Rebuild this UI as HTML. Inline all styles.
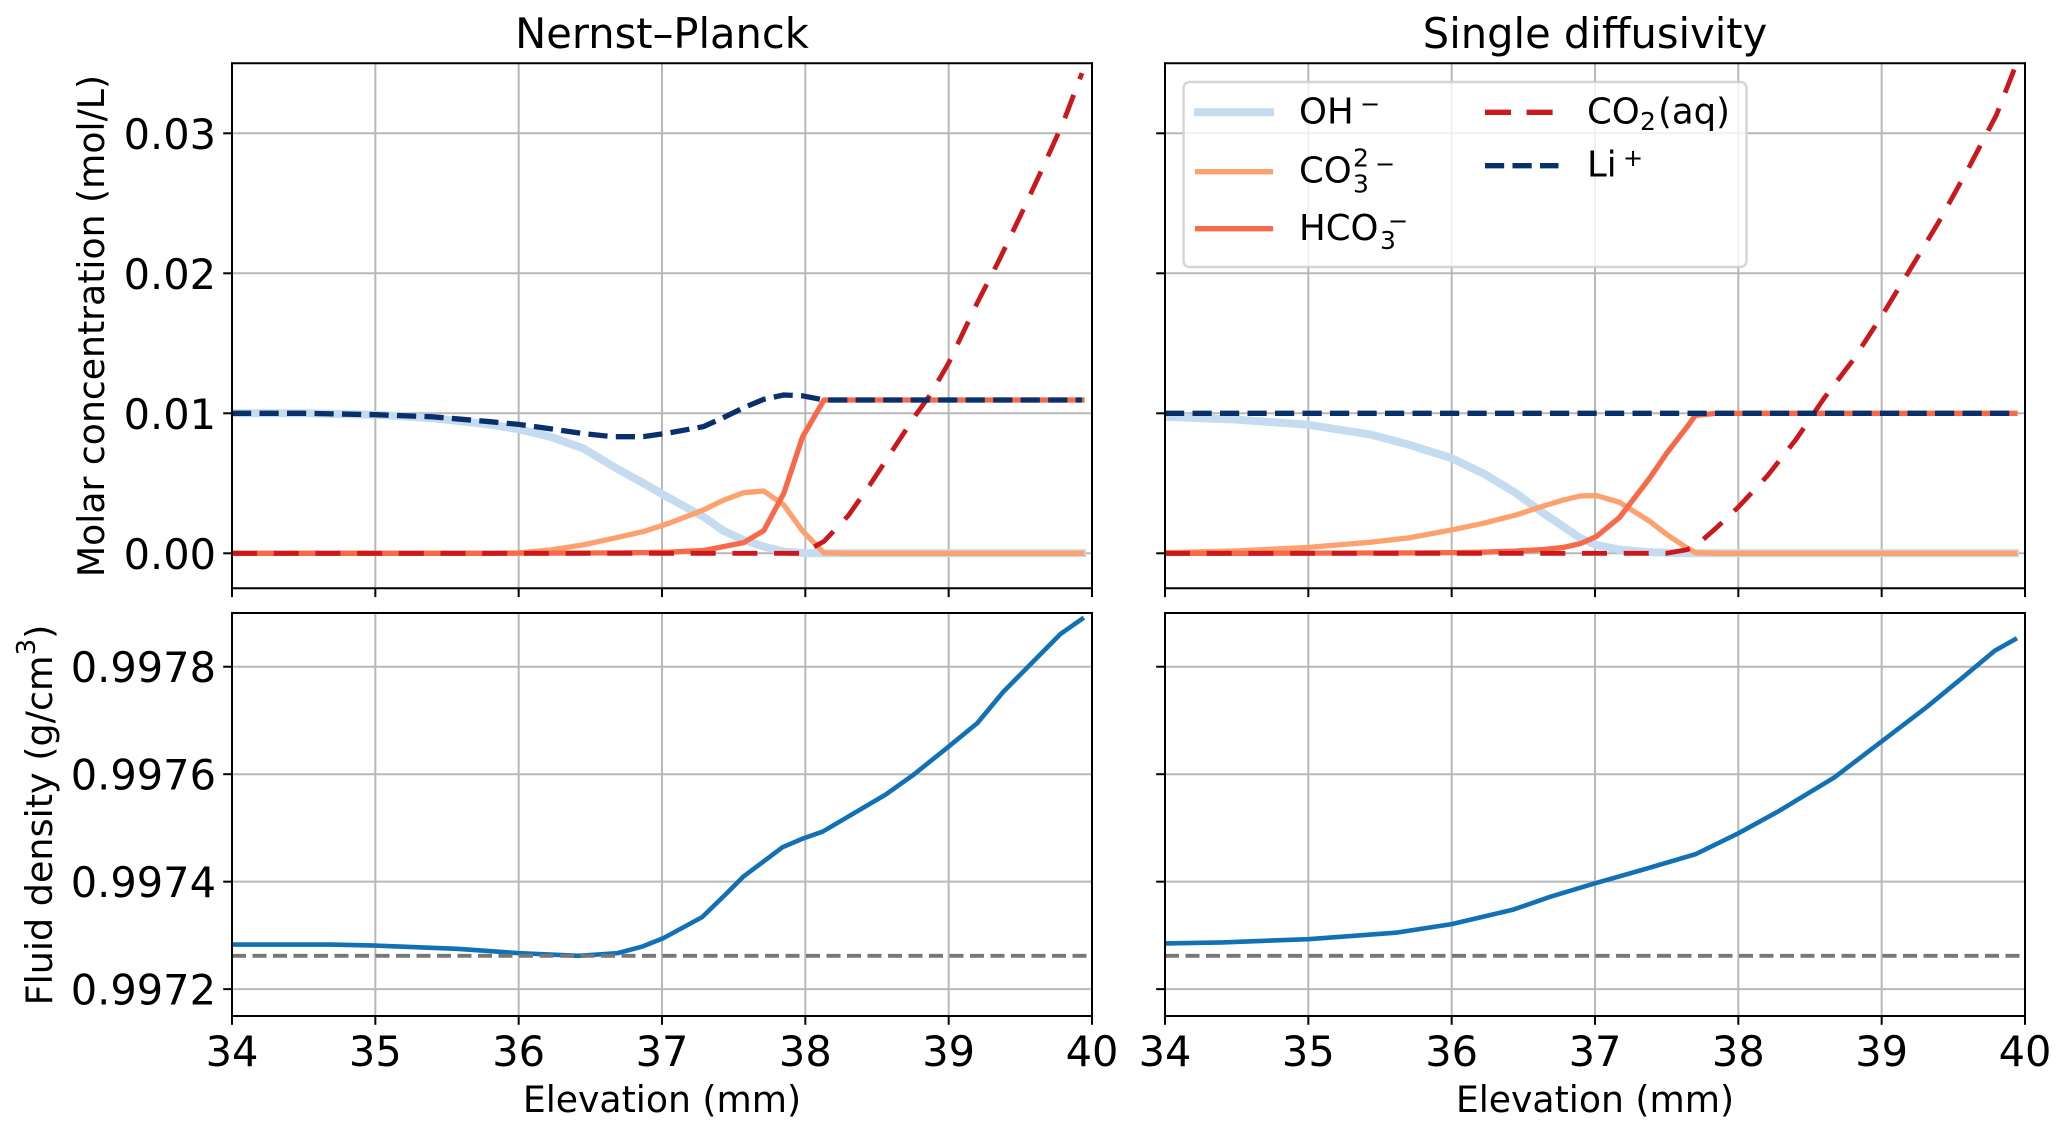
<!DOCTYPE html>
<html lang="en">
<head>
<meta charset="utf-8">
<title>Nernst–Planck vs single diffusivity</title>
<style>
html,body{margin:0;padding:0;background:#fff;}
svg{display:block;}
text{font-family:"DejaVu Sans","Liberation Sans",sans-serif;fill:#000;}
</style>
</head>
<body>
<svg id="figure" xmlns="http://www.w3.org/2000/svg" width="2067" height="1135" viewBox="0 0 2067 1135">
  <defs>
    <clipPath id="clip-tl"><rect x="232" y="63.3" width="860" height="525"/></clipPath>
    <clipPath id="clip-tr"><rect x="1165" y="63.3" width="860" height="525"/></clipPath>
    <clipPath id="clip-bl"><rect x="232" y="613" width="860" height="403"/></clipPath>
    <clipPath id="clip-br"><rect x="1165" y="613" width="860" height="403"/></clipPath>
  </defs>
  <g id="plots"></g>

  <text x="662" y="48" font-size="41.6" text-anchor="middle">Nernst–Planck</text>
  <text x="1595" y="48" font-size="41.6" text-anchor="middle">Single diffusivity</text>
  <text transform="translate(104,326) rotate(-90)" font-size="36.2" text-anchor="middle">Molar concentration (mol/L)</text>
  <text transform="translate(52,815) rotate(-90)" font-size="36.5" text-anchor="middle">Fluid density (g/cm<tspan font-size="26" dy="-17">3</tspan><tspan dy="17">)</tspan></text>
  <text x="662" y="1112" font-size="36.2" text-anchor="middle">Elevation (mm)</text>
  <text x="1595" y="1112" font-size="36.2" text-anchor="middle">Elevation (mm)</text>

  <g id="legend">
    <rect x="1183.5" y="82" width="563" height="185" rx="6" ry="6" fill="#fff" fill-opacity="0.8" stroke="#ccc" stroke-opacity="0.8" stroke-width="2.5"/>
    <g>
      <line x1="1194" x2="1274" y1="112.3" y2="112.3" stroke="#c4dbf0" stroke-width="8"/>
      <text x="1299" y="123.3" font-size="35.5">OH</text>
      <text x="1360" y="112" font-size="24">−</text>
    </g>
    <g>
      <line x1="1195" x2="1273" y1="171.7" y2="171.7" stroke="#fda26f" stroke-width="5.3"/>
      <text x="1299" y="182.7" font-size="35.5">CO</text>
      <text x="1353" y="166.7" font-size="25">2</text>
      <text x="1353" y="192.7" font-size="25">3</text>
      <text x="1375" y="172" font-size="24">−</text>
    </g>
    <g>
      <line x1="1195" x2="1273" y1="228.7" y2="228.7" stroke="#f96a49" stroke-width="5.3"/>
      <text x="1299" y="240" font-size="35.5">HCO</text>
      <text x="1380" y="249" font-size="25">3</text>
      <text x="1388" y="229" font-size="24">−</text>
    </g>
    <g>
      <line x1="1485" x2="1553" y1="112.3" y2="112.3" stroke="#cb181d" stroke-width="5.3" stroke-dasharray="26 15.6"/>
      <text x="1587" y="123.3" font-size="35.5">CO</text>
      <text x="1640" y="130" font-size="25">2</text>
      <text x="1658" y="123.3" font-size="35.5">(aq)</text>
    </g>
    <g>
      <line x1="1485" x2="1558.5" y1="165.7" y2="165.7" stroke="#08306b" stroke-width="5.3" stroke-dasharray="19.2 8.3"/>
      <text x="1587" y="176.7" font-size="35.5">Li</text>
      <text x="1623" y="166" font-size="24">+</text>
    </g>
  </g>
</svg>

<script>
// ---- Data ----
const concTicks = [0.00, 0.01, 0.02, 0.03];
const concTickLabels = ["0.00", "0.01", "0.02", "0.03"];
const densityTicks = [0.9972, 0.9974, 0.9976, 0.9978];
const densityTickLabels = ["0.9972", "0.9974", "0.9976", "0.9978"];
const elevationTicks = [34, 35, 36, 37, 38, 39, 40];
const elevationTickLabels = ["34", "35", "36", "37", "38", "39", "40"];
const initialDensity = 0.997262;

const npElevation = [34,34.5,35,35.4,35.8,36,36.22,36.45,36.66,36.87,37.05,37.29,37.43,37.57,37.71,37.85,37.98,38.13,38.3,38.45,38.61,38.77,38.87,39,39.2,39.35,39.5,39.65,39.8,39.93];
const npOH = [0.0100,0.0100,0.0099,0.00965,0.0092,0.00886,0.00833,0.0075,0.0062,0.0050,0.00395,0.0026,0.0016,0.00095,0.00048,0.00012,0.00002,0,0,0,0,0,0,0,0,0,0,0,0,0];
const npCO3 = [0,0,0,0,0,0.00003,0.00024,0.0006,0.00107,0.00155,0.00215,0.0031,0.0038,0.00433,0.00445,0.00345,0.0016,0.00003,0,0,0,0,0,0,0,0,0,0,0,0];
const npHCO3 = [0,0,0,0,0,0.00001,0.00001,0.00002,0.00003,0.00005,0.00008,0.0002,0.00048,0.00076,0.00162,0.00429,0.0083,0.01095,0.01095,0.01095,0.01095,0.01095,0.01095,0.01095,0.01095,0.01095,0.01095,0.01095,0.01095,0.01095];
const npCO2 = [0,0,0,0,0,0,0,0,0,0,0,0,0,0,0,0,0,0.00085,0.0027,0.00488,0.00738,0.00988,0.0113,0.0136,0.0179,0.0209,0.0241,0.0274,0.0308,0.0343];
const npLi = [0.0100,0.0100,0.0099,0.00975,0.0094,0.00921,0.0089,0.00855,0.00833,0.00833,0.0086,0.00905,0.0097,0.0104,0.0110,0.01131,0.01125,0.01095,0.01095,0.01095,0.01095,0.01095,0.01095,0.01095,0.01095,0.01095,0.01095,0.01095,0.01095,0.01095];

const sdElevation = [34,34.5,35,35.44,35.7,36,36.22,36.45,36.64,36.78,36.9,37.01,37.17,37.38,37.5,37.64,37.7,37.85,38,38.2,38.4,38.6,38.8,39,39.2,39.4,39.6,39.8,39.93];
const sdOH = [0.00975,0.00955,0.00918,0.00847,0.00776,0.00679,0.00571,0.00429,0.00286,0.0019,0.00107,0.0006,0.00026,0.00008,0.00004,0,0,0,0,0,0,0,0,0,0,0,0,0,0];
const sdCO3 = [0.00005,0.00017,0.00042,0.0008,0.0011,0.00167,0.00214,0.00274,0.00338,0.00381,0.0041,0.00412,0.00365,0.0023,0.00135,0.0004,0.00005,0,0,0,0,0,0,0,0,0,0,0,0];
const sdHCO3 = [0,0,0.00001,0.00002,0.00003,0.00005,0.00008,0.00016,0.00027,0.00042,0.0007,0.0012,0.00255,0.00535,0.00715,0.0090,0.00985,0.0100,0.0100,0.0100,0.0100,0.0100,0.0100,0.0100,0.0100,0.0100,0.0100,0.0100,0.0100];
const sdCO2 = [0,0,0,0,0,0,0,0,0,0,0,0,0,0,0,0.00025,0.0005,0.00185,0.0033,0.0055,0.0081,0.0111,0.0138,0.01695,0.0203,0.0237,0.0274,0.0313,0.0347];
const sdLi = [0.0100,0.0100,0.0100,0.0100,0.0100,0.0100,0.0100,0.0100,0.0100,0.0100,0.0100,0.0100,0.0100,0.0100,0.0100,0.0100,0.0100,0.0100,0.0100,0.0100,0.0100,0.0100,0.0100,0.0100,0.0100,0.0100,0.0100,0.0100,0.0100];

const npDensityElevation = [34,34.69,35,35.57,36,36.42,36.69,36.86,37.01,37.28,37.45,37.57,37.84,37.99,38.12,38.56,38.75,38.97,39.2,39.38,39.58,39.78,39.93];
const npDensity = [0.997283,0.997283,0.997281,0.997275,0.997267,0.997262,0.997267,0.997279,0.997295,0.997334,0.997378,0.99741,0.997464,0.997481,0.997493,0.997562,0.997598,0.997645,0.997695,0.997753,0.997807,0.997861,0.997889];
const sdDensityElevation = [34,34.4,35,35.61,36,36.43,36.69,37,37.33,37.7,38,38.28,38.67,39,39.31,39.57,39.79,39.93];
const sdDensity = [0.997285,0.997287,0.997293,0.997305,0.997321,0.997348,0.997372,0.997397,0.997422,0.997451,0.99749,0.997531,0.997594,0.997661,0.997724,0.997781,0.99783,0.997851];

// ---- Axis functions ----
const SVGNS = "http://www.w3.org/2000/svg";
const plots = document.getElementById("plots");
const xDomain = [34, 40];
const concDomain = [-0.0025, 0.035];
const densityDomain = [0.99715, 0.9979];
const concRange = [588.3, 63.3];
const densityRange = [1016, 613];
function linear(domain, range) {
  return function (v) {
    return range[0] + (v - domain[0]) / (domain[1] - domain[0]) * (range[1] - range[0]);
  };
}
const xLeft = linear(xDomain, [232, 1092]);
const xRight = linear(xDomain, [1165, 2025]);
const yConc = linear(concDomain, concRange);
const yDensity = linear(densityDomain, densityRange);

function drawLine(parent, name, x1, y1, x2, y2, stroke, width, dash) {
  const el = document.createElementNS(SVGNS, "line");
  
  
  el.setAttribute("x1", x1);
  el.setAttribute("y1", y1);
  el.setAttribute("x2", x2);
  el.setAttribute("y2", y2);
  el.setAttribute("stroke", stroke);
  el.setAttribute("stroke-width", width);
  if (dash) el.setAttribute("stroke-dasharray", dash);
  parent.appendChild(el);
  return el;
}
function drawText(parent, name, x, y, str, anchor) {
  const el = document.createElementNS(SVGNS, "text");
  
  
  el.setAttribute("x", x);
  el.setAttribute("y", y);
  el.setAttribute("font-size", "41.5");
  el.setAttribute("text-anchor", anchor);
  el.textContent = str;
  parent.appendChild(el);
}
function drawSeries(parent, name, xs, ys, xScale, yScale, stroke, width, dash) {
  const el = document.createElementNS(SVGNS, "polyline");
  
  
  const pts = xs.map(function (x, i) {
    return xScale(x).toFixed(2) + "," + yScale(ys[i]).toFixed(2);
  });
  el.setAttribute("points", pts.join(" "));
  el.setAttribute("fill", "none");
  el.setAttribute("stroke", stroke);
  el.setAttribute("stroke-width", width);
  el.setAttribute("stroke-linejoin", "round");
  if (dash) {
    el.setAttribute("stroke-dasharray", dash);
  } else {
    el.setAttribute("stroke-linecap", "square");
  }
  parent.appendChild(el);
}

function drawPanel(cfg) {
  const g = document.createElementNS(SVGNS, "g");
  
  
  plots.appendChild(g);

  const xs = cfg.xScale, ys = cfg.yScale;
  const left = xs(xDomain[0]), right = xs(xDomain[1]);
  const top = cfg.yRange[1], bottom = cfg.yRange[0];

  // grid
  elevationTicks.forEach(function (t) {
    drawLine(g, "x-gridline", xs(t), top, xs(t), bottom, "#b8b8b8", 2);
  });
  cfg.yTicks.forEach(function (t) {
    drawLine(g, "y-gridline", left, ys(t), right, ys(t), "#b8b8b8", 2);
  });

  // series
  const clipped = document.createElementNS(SVGNS, "g");
  
  
  clipped.setAttribute("clip-path", "url(#" + cfg.clip + ")");
  g.appendChild(clipped);
  cfg.series.forEach(function (s) {
    drawSeries(clipped, s.name, s.x, s.y, xs, ys, s.color, s.width, s.dash);
  });
  if (cfg.refLine !== undefined) {
    drawLine(clipped, "initial-density-line", left, ys(cfg.refLine), right, ys(cfg.refLine), "#777777", 3.8, "14 6.5");
  }

  // ticks
  elevationTicks.forEach(function (t, i) {
    drawLine(g, "x-tick", xs(t), bottom, xs(t), bottom + 8.8, "#000", 2);
    if (cfg.xLabels) drawText(g, "x-tick-label", xs(t), 1066, elevationTickLabels[i], "middle");
  });
  cfg.yTicks.forEach(function (t, i) {
    drawLine(g, "y-tick", left - 8.8, ys(t), left, ys(t), "#000", 2);
    if (cfg.yLabels) drawText(g, "y-tick-label", left - 16, ys(t) + 15.5, cfg.yLabels[i], "end");
  });

  // spines
  drawLine(g, "spine-left", left, top - 1, left, bottom + 1, "#000", 2);
  drawLine(g, "spine-right", right, top - 1, right, bottom + 1, "#000", 2);
  drawLine(g, "spine-top", left - 1, top, right + 1, top, "#000", 2);
  drawLine(g, "spine-bottom", left - 1, bottom, right + 1, bottom, "#000", 2);
}

const CO2_DASH = "25 16.7";
const LI_DASH = "19.2 8.3";

drawPanel({
  name: "panel-nernst-planck-concentration", clip: "clip-tl",
  xScale: xLeft, yScale: yConc, yRange: concRange, yTicks: concTicks, yLabels: concTickLabels,
  series: [
    { name: "series-oh", x: npElevation, y: npOH, color: "#c4dbf0", width: 8 },
    { name: "series-co3", x: npElevation, y: npCO3, color: "#fda26f", width: 5.3 },
    { name: "series-hco3", x: npElevation, y: npHCO3, color: "#f76a49", width: 5.3 },
    { name: "series-co2", x: npElevation, y: npCO2, color: "#cb181d", width: 4.8, dash: CO2_DASH },
    { name: "series-li", x: npElevation, y: npLi, color: "#08306b", width: 5.3, dash: LI_DASH }
  ]
});
drawPanel({
  name: "panel-single-diffusivity-concentration", clip: "clip-tr",
  xScale: xRight, yScale: yConc, yRange: concRange, yTicks: concTicks,
  series: [
    { name: "series-oh", x: sdElevation, y: sdOH, color: "#c4dbf0", width: 8 },
    { name: "series-co3", x: sdElevation, y: sdCO3, color: "#fda26f", width: 5.3 },
    { name: "series-hco3", x: sdElevation, y: sdHCO3, color: "#f76a49", width: 5.3 },
    { name: "series-co2", x: sdElevation, y: sdCO2, color: "#cb181d", width: 4.8, dash: CO2_DASH },
    { name: "series-li", x: sdElevation, y: sdLi, color: "#08306b", width: 5.3, dash: LI_DASH }
  ]
});
drawPanel({
  name: "panel-nernst-planck-density", clip: "clip-bl",
  xScale: xLeft, yScale: yDensity, yRange: densityRange, yTicks: densityTicks, yLabels: densityTickLabels,
  xLabels: true, refLine: initialDensity,
  series: [
    { name: "series-density", x: npDensityElevation, y: npDensity, color: "#1271b5", width: 4.6 }
  ]
});
drawPanel({
  name: "panel-single-diffusivity-density", clip: "clip-br",
  xScale: xRight, yScale: yDensity, yRange: densityRange, yTicks: densityTicks,
  xLabels: true, refLine: initialDensity,
  series: [
    { name: "series-density", x: sdDensityElevation, y: sdDensity, color: "#1271b5", width: 4.6 }
  ]
});
</script>
</body>
</html>
